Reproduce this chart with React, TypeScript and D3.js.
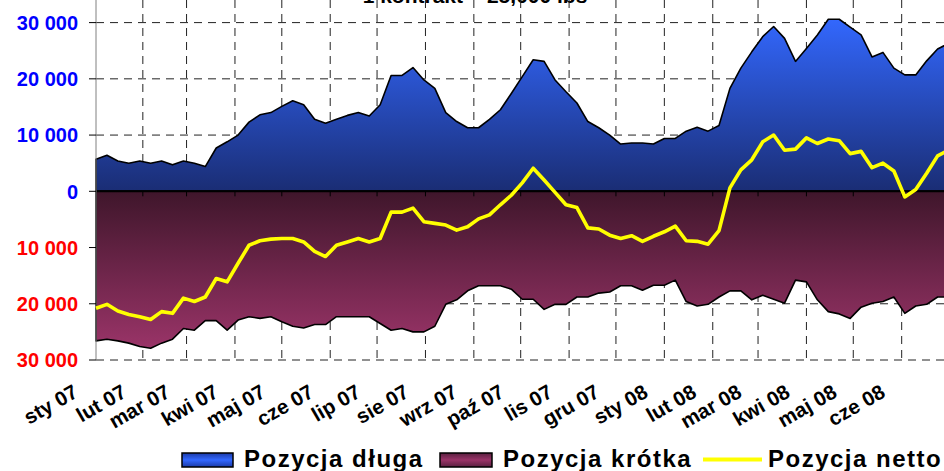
import React from 'react';
import * as d3 from 'd3';

// weekly COT report dates (Tuesdays), Jan 2007 - Jul 2008
const weekDates = d3.timeTuesday.range(new Date(2007, 0, 2), new Date(2008, 6, 2));

const longPos = [
  5700, 6400, 5400, 5000, 5400, 5000, 5400, 4700, 5400, 5000,
  4400, 7700, 8800, 10000, 12300, 13600, 14000, 15100, 16100, 15400,
  12800, 12100, 12800, 13500, 14000, 13400, 15400, 20600, 20600, 22000,
  19800, 18300, 14000, 12400, 11300, 11300, 12800, 14500, 17400, 20400,
  23400, 23100, 19800, 17700, 15700, 12400, 11300, 10000, 8400, 8600,
  8600, 8400, 9400, 9400, 10700, 11400, 10700, 11700, 18300, 21900,
  24800, 27500, 29300, 27200, 23100, 25400, 27800, 30600, 30600, 29200,
  27800, 23900, 24700, 21900, 20700, 20700, 23200, 25300, 26300
];

const shortPos = [
  26600, 26300, 26600, 27000, 27600, 27900, 27000, 26300, 24400, 24700,
  23000, 23000, 24700, 22900, 22300, 22600, 22300, 23200, 24000, 24300,
  23700, 23700, 22300, 22300, 22300, 22300, 23500, 24700, 24400, 25000,
  25000, 24000, 20100, 19300, 17700, 16800, 16800, 16800, 17400, 19200,
  19200, 21000, 20100, 20100, 18800, 18800, 18100, 17900, 16800, 16800,
  17600, 16700, 16700, 15800, 19600, 20400, 20100, 18800, 17700, 17700,
  19300, 18500, 19200, 19900, 15800, 16100, 19300, 21400, 21800, 22600,
  20600, 19900, 19600, 18800, 21700, 20400, 20100, 18800, 18800
];

const netPos = [
  -20800, -20100, -21300, -21900, -22300, -22800, -21400, -21700, -19000, -19600,
  -18800, -15500, -16100, -12800, -9600, -8800, -8500, -8400, -8400, -9000,
  -10700, -11600, -9600, -9000, -8400, -9000, -8400, -3700, -3700, -3000,
  -5400, -5700, -6000, -6900, -6300, -4900, -4200, -2400, -700, 1500,
  4100, 2000, -200, -2400, -2900, -6500, -6700, -7800, -8400, -7900,
  -8900, -8000, -7200, -6200, -8800, -8900, -9400, -7000, 600, 3800,
  5600, 8800, 10000, 7300, 7500, 9500, 8500, 9300, 9000, 6700,
  7100, 4200, 5000, 3600, -1000, 300, 3200, 6300, 7300
];

const monthLabels = [
  'sty 07', 'lut 07', 'mar 07', 'kwi 07', 'maj 07', 'cze 07', 'lip 07', 'sie 07', 'wrz 07',
  'paź 07', 'lis 07', 'gru 07', 'sty 08', 'lut 08', 'mar 08', 'kwi 08', 'maj 08', 'cze 08'
];
const monthStarts = d3.timeMonth.range(new Date(2007, 0, 1), new Date(2008, 6, 1));

const yTicks = [-30000, -20000, -10000, 0, 10000, 20000, 30000];

const W = 944, H = 471;
const FONT = "Arial, 'Liberation Sans', sans-serif";

export default function App() {
  const x = d3.scaleTime()
    .domain([new Date(2007, 0, 2), new Date(2008, 6, 1)])
    .range([96, 96 + 546 * 1.5614]);
  const y = d3.scaleLinear().domain([-30000, 30000]).range([360, 22.6]);

  const longArea = d3.area<number>()
    .x((d, i) => x(weekDates[i]))
    .y0(y(0))
    .y1(d => y(d));
  const shortArea = d3.area<number>()
    .x((d, i) => x(weekDates[i]))
    .y0(y(0))
    .y1(d => y(-d));
  const netLine = d3.line<number>()
    .x((d, i) => x(weekDates[i]))
    .y(d => y(d));

  const fmt = (v) => d3.format(',')(Math.abs(v)).replace(/,/g, ' ');
  const x0 = x.range()[0];

  return (
    <svg width={W} height={H} style={{ position: 'absolute', left: 0, top: 0, background: '#fff' }}
      fontFamily={FONT}>
      <defs>
        <linearGradient id="gLong" gradientUnits="userSpaceOnUse" x1="0" y1={y(31000)} x2="0" y2={y(0)}>
          <stop offset="0" stopColor="#3368ff" />
          <stop offset="1" stopColor="#1a2d74" />
        </linearGradient>
        <linearGradient id="gShort" gradientUnits="userSpaceOnUse" x1="0" y1={y(0)} x2="0" y2={y(-28000)}>
          <stop offset="0" stopColor="#3f162b" />
          <stop offset="1" stopColor="#9a3468" />
        </linearGradient>
        <linearGradient id="swLong" x1="0" y1="0" x2="0" y2="1">
          <stop offset="0" stopColor="#1a3aa8" />
          <stop offset="0.5" stopColor="#3368ff" />
          <stop offset="1" stopColor="#1a3aa8" />
        </linearGradient>
        <linearGradient id="swShort" x1="0" y1="0" x2="0" y2="1">
          <stop offset="0" stopColor="#5a2040" />
          <stop offset="0.5" stopColor="#9a3468" />
          <stop offset="1" stopColor="#5a2040" />
        </linearGradient>
      </defs>

      {/* title, cut off at top like the source */}
      <text x={475} y={3} textAnchor="middle" fontSize={21} fontWeight="bold">1 kontrakt = 25,000 lbs</text>

      {/* grid */}
      {yTicks.filter(t => t !== 0).map(t => (
        <line key={'h' + t} x1={x0} x2={W} y1={y(t)} y2={y(t)} stroke="#222" strokeWidth={1} strokeDasharray="8,6" />
      ))}
      {monthStarts.slice(1).map((m, i) => (
        <line key={'v' + i} x1={x(m)} x2={x(m)} y1={0} y2={y(-30000)} stroke="#222" strokeWidth={1} strokeDasharray="8,6" />
      ))}

      {/* areas */}
      <path d={longArea(longPos)} fill="url(#gLong)" stroke="#000" strokeWidth={1.6} strokeLinejoin="round" />
      <path d={shortArea(shortPos)} fill="url(#gShort)" stroke="#000" strokeWidth={1.6} strokeLinejoin="round" />

      {/* zero line and x ticks */}
      <line x1={x0} x2={W} y1={y(0)} y2={y(0)} stroke="#000" strokeWidth={2} />
      {monthStarts.slice(1).map((m, i) => (
        <line key={'t' + i} x1={x(m)} x2={x(m)} y1={y(0)} y2={y(0) + 5} stroke="#000" strokeWidth={1} />
      ))}

      {/* y axis */}
      <line x1={x0} x2={x0} y1={0} y2={y(-30000)} stroke="#808080" strokeWidth={1} />
      {yTicks.map(t => (
        <g key={'y' + t}>
          <line x1={x0 - 7} x2={x0} y1={y(t)} y2={y(t)} stroke="#000" strokeWidth={1} />
          <text x={78} y={y(t)} dy="0.36em" textAnchor="end" fontSize={20} fontWeight="bold"
            fill={t < 0 ? '#ff0000' : '#0000ff'}>{fmt(t)}</text>
        </g>
      ))}

      {/* net line */}
      <path d={netLine(netPos)} fill="none" stroke="#ffff00" strokeWidth={3.6} strokeLinejoin="round" />

      {/* month labels */}
      {monthStarts.map((m, i) => (
        <text key={'m' + i} transform={`translate(${x(m) - 15},396) rotate(-30)`} textAnchor="end"
          fontSize={20.5} fontWeight="bold">{monthLabels[i]}</text>
      ))}

      {/* legend */}
      <g fontSize={24} fontWeight="bold" letterSpacing={1.5}>
        <rect x={182} y={453} width={51} height={14} fill="url(#swLong)" stroke="#000" strokeWidth={1.5} />
        <text x={244} y={467}>Pozycja długa</text>
        <rect x={440} y={453} width={52} height={14} fill="url(#swShort)" stroke="#000" strokeWidth={1.5} />
        <text x={503} y={467}>Pozycja krótka</text>
        <line x1={703} x2={762} y1={459.5} y2={459.5} stroke="#ffff00" strokeWidth={4} />
        <text x={768} y={467}>Pozycja netto</text>
      </g>
    </svg>
  );
}
